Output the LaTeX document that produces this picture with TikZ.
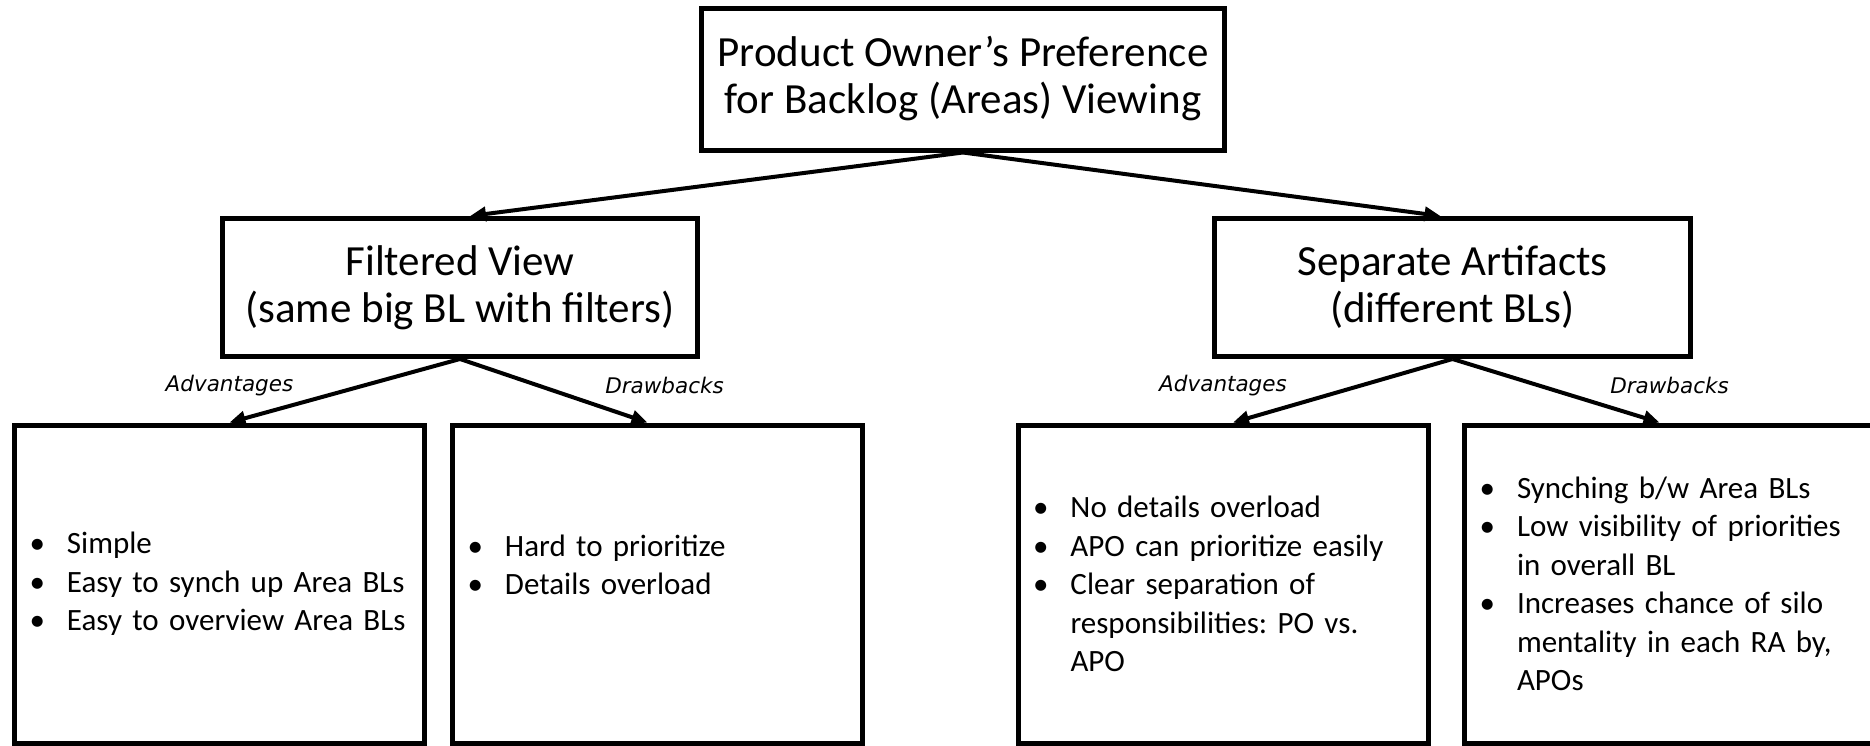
\documentclass[tikz,border=0pt]{standalone}
\usepackage{fontspec}
\setmainfont{Carlito}
\newfontfamily\tagfont{DejaVu Sans}
\usetikzlibrary{arrows.meta}
\frenchspacing
\tikzstyle{box}=[draw,line width=5pt,inner sep=0pt,align=center,font=\fontsize{43}{47}\selectfont]
\tikzstyle{listbox}=[draw,line width=5pt,minimum width=410pt,minimum height=318pt,text width=380pt,inner xsep=15pt,align=left,font=\fontsize{31}{38.5}\selectfont]
\tikzstyle{link}=[draw,line width=4pt,-{Triangle[length=16pt,width=14pt]}]
\tikzstyle{tag}=[font=\tagfont\itshape\fontsize{21.5}{25}\selectfont]
\newcommand\blt{\makebox[37.5pt][l]{\textbullet}}
\newcommand\cnt{\hspace*{37.5pt}}
\begin{document}
\begin{tikzpicture}[x=1pt,y=-1pt]

  \useasboundingbox (0,0) rectangle (1870,745);
  \clip (0,0) rectangle (1870,745);

  \node[box,minimum width=523pt,minimum height=142pt] (pref) at (963,79) {Product Owner’s Preference\\for Backlog (Areas) Viewing};

  \node[box,minimum width=475pt,minimum height=138pt] (filt) at (460,287.5) {Filtered View\\(same big BL with filters)};
  \node[box,minimum width=476pt,minimum height=138pt] (sep) at (1452.5,287.5) {Separate Artifacts\\(different BLs)};

  \node[listbox] (adv1) at (219.5,584) {\blt Simple\\\blt Easy to synch up Area BLs\\\blt Easy to overview Area BLs};
  \node[listbox] (drw1) at (657.5,584) {\blt Hard to prioritize\\\blt Details overload\\\mbox{}};
  \node[listbox] (adv2) at (1223,584) {\blt No details overload\\\blt APO can prioritize easily\\\blt Clear separation of\\\cnt responsibilities: PO vs.\\\cnt APO};
  \node[listbox] (drw2) at (1669.5,584) {\blt Synching b/w Area BLs\\\blt Low visibility of priorities\\\cnt in overall BL\\\blt Increases chance of silo\\\cnt mentality in each RA by,\\\cnt APOs};

  \foreach \dst/\dx in {filt/10,sep/-12}
    \draw[link] (pref.south) -- ([xshift=\dx pt]\dst.north);

  \foreach \src/\dst/\dx/\txt/\lx in {filt/adv1/10/Advantages/0, filt/drw1/-10/Drawbacks/17, sep/adv2/10/Advantages/-10, sep/drw2/-10/Drawbacks/10}
    \draw[link] (\src.south) -- node[tag,pos=1,yshift=37pt,xshift=\lx pt] {\txt} ([xshift=\dx pt]\dst.north);

\end{tikzpicture}
\end{document}
